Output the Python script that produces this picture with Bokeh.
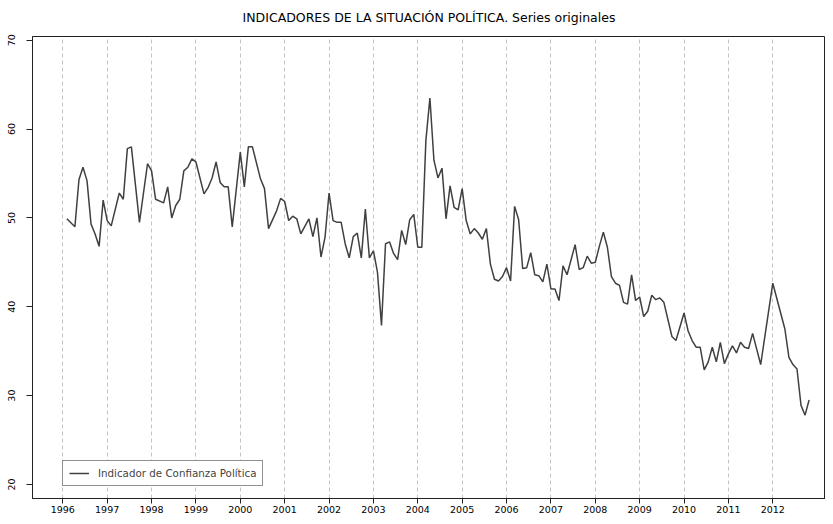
from bokeh.plotting import figure
from bokeh.models import FixedTicker, Range1d
from bokeh.embed import file_html
from bokeh.resources import INLINE

# 11 barometers per year (no August); k = period index counted from January 1996
periodo = [1, 3, 4, 5, 6, 7, 8, 9, 10, 11, 12, 14, 15, 16, 17, 19, 21, 22, 23, 25,
           26, 27, 28, 29, 30, 31, 32, 33, 35, 36, 37, 38, 39, 40, 41, 42, 44, 45, 46, 47,
           49, 50, 51, 53, 54, 55, 56, 57, 58, 59, 61, 62, 63, 64, 65, 66,
           67, 68, 69, 70, 71, 72, 73, 74, 75, 76, 77, 78, 79, 80, 81, 82, 83, 84, 85, 86,
           87, 88, 89, 90, 91, 92, 93, 94, 95, 96, 97, 98, 99, 100, 101, 102, 103, 104, 105,
           106, 107, 108, 109, 110, 111, 112, 113, 114, 115, 116, 117, 118, 119, 120, 121,
           122, 123, 124, 125, 127, 128, 129, 130, 131, 132, 133,
           134, 135, 136, 137, 138, 139, 140, 141, 142, 143, 144, 145, 146, 147, 148, 149,
           151, 152, 154, 155, 156, 157, 158, 159, 160, 161, 162, 163, 164, 165, 166, 167,
           168, 169, 170, 171, 173, 176, 179, 180, 181, 182, 183, 184, 185]

confianza = [49.9, 49.0, 54.3, 55.7, 54.2, 49.3, 48.2, 46.8, 52.0, 49.7, 49.1, 52.8, 52.1, 57.8, 58.0, 49.5, 56.1, 55.3, 52.1, 51.7,
             53.5, 50.0, 51.4, 52.1, 55.3, 55.7, 56.65, 56.3, 52.7, 53.4, 54.5, 56.3, 54.0, 53.5, 53.5, 49.0, 57.4, 53.5, 58.0, 58.0,
             54.4, 53.3, 48.8, 50.8, 52.2, 51.85, 49.7, 50.2, 49.9, 48.2, 49.9, 47.9, 50.0, 45.6, 47.8, 52.8,
             49.7, 49.5, 49.5, 47.1, 45.5, 47.9, 48.3, 45.5, 51.0, 45.5, 46.3, 43.9, 37.9, 47.1, 47.3, 46.0, 45.3, 48.6, 47.0, 49.8,
             50.4, 46.7, 46.7, 58.7, 63.5, 56.5, 54.5, 55.6, 49.9, 53.6, 51.2, 50.9, 53.3, 49.7, 48.2, 48.8, 48.3, 47.6, 48.8,
             44.8, 43.1, 42.9, 43.4, 44.4, 42.9, 51.3, 49.8, 44.3, 44.4, 46.1, 43.6, 43.5, 42.8, 44.8, 42.0,
             42.0, 40.7, 44.6, 43.6, 47.0, 44.2, 44.4, 45.7, 44.9, 45.0, 46.8,
             48.4, 46.7, 43.4, 42.65, 42.4, 40.5, 40.3, 43.6, 40.7, 41.1, 38.9, 39.5, 41.3, 40.8, 41.0, 40.5,
             36.65, 36.2, 39.3, 37.3, 36.2, 35.45, 35.45, 32.9, 33.8, 35.45, 33.8, 36.0, 33.6, 34.7, 35.6, 34.8,
             36.0, 35.45, 35.3, 37.0, 33.5, 42.65, 37.5, 34.3, 33.5, 33.0, 28.9, 27.8, 29.5]

anios = list(range(1996, 2013))
y_ticks = [20, 30, 40, 50, 60, 70]
titulo = "INDICADORES DE LA SITUACIÓN POLÍTICA. Series originales"

fechas = [1996 + k / 11.0 for k in periodo]

FONT = "DejaVu Sans"

p = figure(width=825, height=516, output_backend="svg", toolbar_location=None,
           x_range=Range1d(1995.317, 2013.188), y_range=Range1d(18.42, 70.42),
           min_border_left=32, min_border_right=0, min_border_top=36, min_border_bottom=18,
           title=titulo)

p.title.align = "center"
p.title.vertical_align = "top"
p.title.text_font = FONT
p.title.text_font_size = "12.5px"
p.title.text_font_style = "normal"
p.title.text_color = "#000000"
p.title.standoff = 19

p.line(fechas, confianza, line_color="#404040", line_width=1.5,
       legend_label="Indicador de Confianza Política")

p.background_fill_color = "white"
p.border_fill_color = "white"
p.outline_line_color = "#222222"
p.outline_line_width = 1

p.xaxis.ticker = FixedTicker(ticks=anios)
p.yaxis.ticker = FixedTicker(ticks=y_ticks)
for ax in (p.xaxis, p.yaxis):
    ax.axis_line_color = "#222222"
    ax.major_tick_line_color = "#222222"
    ax.major_tick_out = 5
    ax.major_tick_in = 0
    ax.minor_tick_out = 0
    ax.minor_tick_in = 0
    ax.major_label_text_font = FONT
    ax.major_label_text_font_size = "9.5px"
    ax.major_label_text_color = "#000000"
p.yaxis.major_tick_out = 6
p.xaxis.major_label_standoff = 2
p.yaxis.major_label_standoff = 11
p.yaxis.major_label_orientation = "vertical"

p.xgrid.ticker = FixedTicker(ticks=anios)
p.xgrid.grid_line_color = "#c4c4c4"
p.xgrid.grid_line_dash = "4 3"
p.xgrid.grid_line_width = 1
p.ygrid.visible = False

lg = p.legend[0]
lg.location = (30, 12)
lg.margin = 0
lg.padding = 6
lg.spacing = 0
lg.glyph_height = 10
lg.glyph_width = 20
lg.label_height = 10
lg.label_standoff = 9
lg.label_text_font = FONT
lg.label_text_font_size = "10.3px"
lg.border_line_color = "#222222"
lg.border_line_width = 1
lg.background_fill_alpha = 1.0

open("out.html", "w").write(file_html(p, INLINE))
